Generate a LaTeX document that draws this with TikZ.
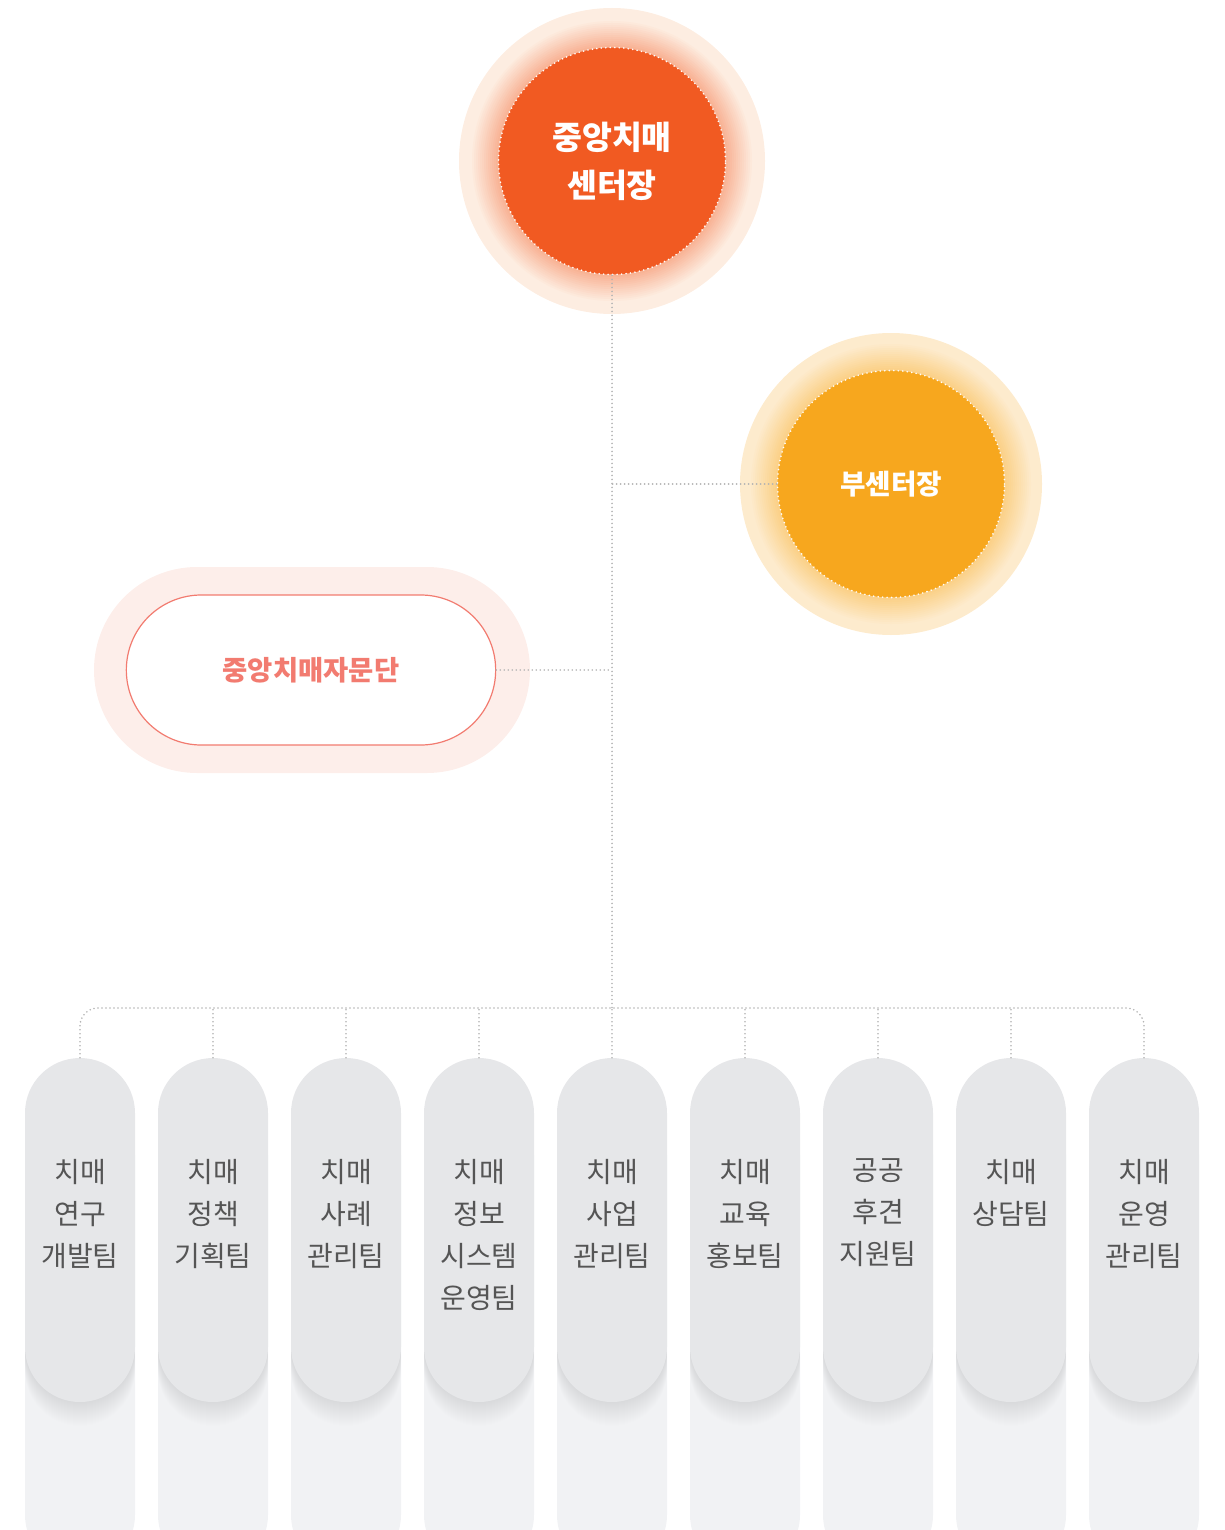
\documentclass[tikz,border=0pt]{standalone}
\usepackage{fontspec}
\setmainfont{Noto Sans CJK KR}
\usetikzlibrary{positioning,calc,shapes.misc}

\definecolor{bossO}{HTML}{F15A22}
\definecolor{bossH}{HTML}{FDEDE1}
\definecolor{depY}{HTML}{F7A71E}
\definecolor{depH}{HTML}{FDEBCD}
\definecolor{advR}{HTML}{F27B70}
\definecolor{advH}{HTML}{FDEEEA}
\definecolor{pillD}{HTML}{E6E7E9}
\definecolor{pillL}{HTML}{F1F2F4}
\definecolor{lineG}{HTML}{B4B4B4}
\definecolor{txtG}{HTML}{555555}

\tikzset{
  link/.style={draw=lineG, line width=1.8pt, dash pattern=on 0pt off 4pt, line cap=round},
  head/.style={circle, minimum size=227pt, inner sep=0pt, draw=white, line width=1.8pt,
    dash pattern=on 0pt off 4.5pt, line cap=round, text=white, align=center,
    font=\bfseries\fontsize{32.5}{48}\selectfont},
  adv/.style={rounded rectangle, draw=advR, line width=1.2pt, fill=white,
    minimum width=376pt, minimum height=150pt, text=advR,
    font=\bfseries\fontsize{27.4}{30}\selectfont},
  team/.style={rectangle, rounded corners=55pt, fill=pillD, minimum width=110pt,
    minimum height=344pt, inner sep=0pt},
  teamtxt/.style={anchor=north, inner sep=0pt, align=center, text=txtG,
    font=\fontsize{28}{42}\selectfont}
}

\begin{document}
\begin{tikzpicture}[x=1pt,y=-1pt]
\useasboundingbox (0,0) rectangle (1224,1530);

\coordinate (bc) at (612,161);
\coordinate (dc) at (891,484);

% halos and glow
\fill[bossH] (bc) circle (153pt);
\foreach \i [evaluate=\i as \m using 3*\i, evaluate=\i as \r using 142-2*\i] in {0,...,14}
  \fill[bossO!\m!bossH] (bc) circle (\r pt);
\fill[depH] (dc) circle (151pt);
\foreach \i [evaluate=\i as \m using 3*\i, evaluate=\i as \r using 142-2*\i] in {0,...,14}
  \fill[depY!\m!depH] (dc) circle (\r pt);
\fill[advH, rounded corners=103pt] (94,567) rectangle (530,773);

\node[head, fill=bossO] (boss) at (bc) {중앙치매\\센터장};
\node[head, fill=depY, font=\bfseries\fontsize{27.7}{30}\selectfont] (dep) at (dc) {부센터장};
\node[adv] (adv) at (311,670) {중앙치매자문단};

% teams
\foreach \i/\t in {1/{치매\\연구\\개발팀}, 2/{치매\\정책\\기획팀}, 3/{치매\\사례\\관리팀},
                   4/{치매\\정보\\시스템\\운영팀}, 5/{치매\\사업\\관리팀}, 6/{치매\\교육\\홍보팀},
                   7/{공공\\후견\\지원팀}, 8/{치매\\상담팀}, 9/{치매\\운영\\관리팀}} {
  \fill[pillL, rounded corners=55pt] ({80+133*(\i-1)-55},1100) rectangle ++(110,470);
  \foreach \k in {1,...,24}
    \fill[black, opacity=0.004, rounded corners=55pt] ({80+133*(\i-1)-55},{1058+\k}) rectangle ++(110,344);
  \node[team] (t\i) at ({80+133*(\i-1)},1230) {};
  \node[teamtxt] at ($(t\i.north)+(0,101)$) {\t};
}

\coordinate (bus) at (612,1008);
\draw[link] (boss.south) -- (bus);
\draw[link] (dep.west) -- (dep.west -| boss.south);
\draw[link] (adv.east) -- (adv.east -| boss.south);
\draw[link, rounded corners=18pt] (t1.north) |- (bus) -| (t9.north);
\foreach \i in {2,...,8}
  \draw[link] (t\i.north) -- (t\i.north |- bus);

\end{tikzpicture}
\end{document}
